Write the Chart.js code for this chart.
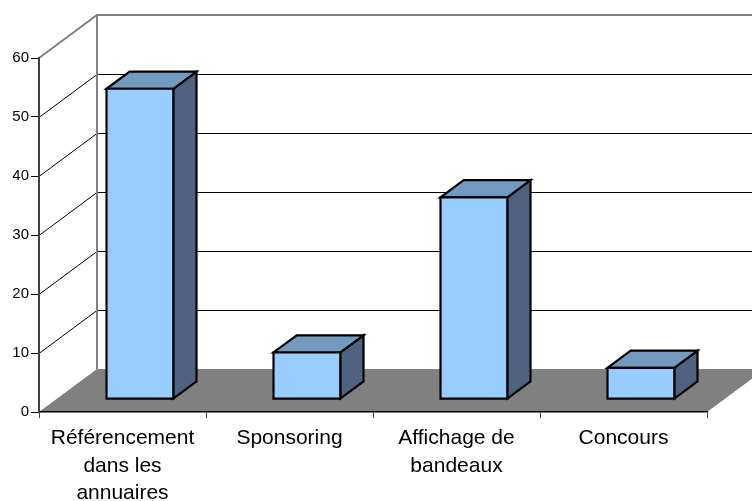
<!DOCTYPE html>
<html>
<head>
<meta charset="utf-8">
<script src="https://cdn.jsdelivr.net/npm/chart.js@4/dist/chart.umd.min.js"></script>
<style>
  html, body { margin: 0; padding: 0; background: #fff; }
  #wrap { width: 752px; height: 501px; }
</style>
</head>
<body>
<div id="wrap"><canvas id="c" width="752" height="501"></canvas></div>
<script>
// Categories and values (percent of answers)
const categories = [
  ["Référencement", "dans les", "annuaires"],
  "Sponsoring",
  ["Affichage de", "bandeaux"],
  "Concours"
];
const values = [52.6, 7.9, 34.2, 5.3];
const yTicks = [0, 10, 20, 30, 40, 50, 60];

// Oblique depth of the floor / walls, and where the boxes sit in that depth
const DEPTH_X = 58, DEPTH_Y = 43;
const BAR_FRONT = 0.3, BAR_BACK = 0.7;

const FONT = "'Liberation Sans', Arial, sans-serif";

const box3d = {
  id: 'box3d',
  beforeDraw(chart) {
    const { ctx, chartArea: a, scales: { y } } = chart;
    const yTop = y.getPixelForValue(yTicks[yTicks.length - 1]);
    const yZero = y.getPixelForValue(0);
    ctx.save();

    // grid lines on the left wall and the back wall
    ctx.lineWidth = 1;
    ctx.strokeStyle = '#000';
    yTicks.forEach(v => {
      if (v === 0 || v === yTicks[yTicks.length - 1]) return;
      const py = Math.round(y.getPixelForValue(v)) + 0.5;
      ctx.beginPath();
      ctx.moveTo(a.left, py);
      ctx.lineTo(a.left + DEPTH_X, py - DEPTH_Y);
      ctx.lineTo(a.right + DEPTH_X, py - DEPTH_Y);
      ctx.stroke();
    });

    // frame of the walls
    ctx.strokeStyle = '#808080';
    ctx.lineWidth = 2;
    ctx.beginPath();
    ctx.moveTo(a.left, yTop);
    ctx.lineTo(a.left + DEPTH_X, yTop - DEPTH_Y);
    ctx.lineTo(a.right + DEPTH_X, yTop - DEPTH_Y);
    ctx.moveTo(a.left + DEPTH_X, yTop - DEPTH_Y);
    ctx.lineTo(a.left + DEPTH_X, yZero - DEPTH_Y);
    ctx.stroke();

    // floor
    ctx.fillStyle = '#808080';
    ctx.beginPath();
    ctx.moveTo(a.left, yZero);
    ctx.lineTo(a.right, yZero);
    ctx.lineTo(a.right + DEPTH_X, yZero - DEPTH_Y);
    ctx.lineTo(a.left + DEPTH_X, yZero - DEPTH_Y);
    ctx.closePath();
    ctx.fill();
    ctx.restore();
  },
  afterDatasetsDraw(chart) {
    const { ctx } = chart;
    const meta = chart.getDatasetMeta(0);
    const fx = DEPTH_X * BAR_FRONT, fy = DEPTH_Y * BAR_FRONT;
    const ddx = DEPTH_X * (BAR_BACK - BAR_FRONT), ddy = DEPTH_Y * (BAR_BACK - BAR_FRONT);
    ctx.save();
    ctx.lineWidth = 2.2;
    ctx.strokeStyle = '#000';
    ctx.lineJoin = 'miter';
    meta.data.forEach(el => {
      const { x, y, base, width } = el.getProps(['x', 'y', 'base', 'width'], true);
      const x0 = x - width / 2 + fx, x1 = x + width / 2 + fx;
      const yt = y - fy, yb = base - fy;
      // side
      ctx.fillStyle = '#4f6380';
      ctx.beginPath();
      ctx.moveTo(x1, yt);
      ctx.lineTo(x1 + ddx, yt - ddy);
      ctx.lineTo(x1 + ddx, yb - ddy);
      ctx.lineTo(x1, yb);
      ctx.closePath();
      ctx.fill();
      ctx.stroke();
      // top
      ctx.fillStyle = '#739bc0';
      ctx.beginPath();
      ctx.moveTo(x0, yt);
      ctx.lineTo(x1, yt);
      ctx.lineTo(x1 + ddx, yt - ddy);
      ctx.lineTo(x0 + ddx, yt - ddy);
      ctx.closePath();
      ctx.fill();
      ctx.stroke();
      // front
      ctx.fillStyle = '#99ccff';
      ctx.beginPath();
      ctx.rect(x0, yt, x1 - x0, yb - yt);
      ctx.fill();
      ctx.stroke();
    });
    ctx.restore();
  }
};

new Chart(document.getElementById('c'), {
  type: 'bar',
  data: {
    labels: categories,
    datasets: [{
      data: values,
      backgroundColor: 'rgba(0,0,0,0)',
      borderWidth: 0,
      barPercentage: 0.4,
      categoryPercentage: 1.0
    }]
  },
  options: {
    responsive: false,
    animation: false,
    events: [],
    layout: { padding: { left: 0, right: 45, top: 58, bottom: 0 } },
    plugins: { legend: { display: false }, tooltip: { enabled: false } },
    scales: {
      x: {
        grid: { drawOnChartArea: false, drawTicks: true, tickLength: 6, color: '#404040', offset: true },
        border: { display: true, color: '#000', width: 1.5 },
        ticks: {
          color: '#000', maxRotation: 0, minRotation: 0, autoSkip: false, padding: 7,
          font: { family: FONT, size: 21, lineHeight: 1.3 }
        },
        afterFit(s) { s.height = 89; }
      },
      y: {
        min: 0, max: 60,
        grid: { drawOnChartArea: false, drawTicks: true, tickLength: 8, color: '#000' },
        border: { display: true, color: '#404040', width: 2 },
        ticks: {
          stepSize: 10, color: '#000', padding: 2,
          font: { family: FONT, size: 15 },
          callback: v => (yTicks.includes(v) ? String(v) : '')
        },
        afterFit(s) { s.width = 39; }
      }
    }
  },
  plugins: [box3d]
});
</script>
</body>
</html>
